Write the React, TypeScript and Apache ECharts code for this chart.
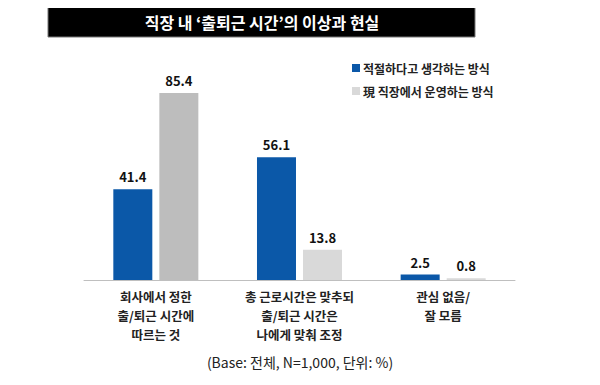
import React, { useEffect, useRef } from "react";
import * as echarts from "echarts";

const titleText = "직장 내 ‘출퇴근 시간’의 이상과 현실";
const categories = ["회사에서 정한\n출/퇴근 시간에\n따르는 것", "총 근로시간은 맞추되\n출/퇴근 시간은\n나에게 맞춰 조정", "관심 없음/\n잘 모름"];
const seriesNames = ["적절하다고 생각하는 방식", "現 직장에서 운영하는 방식"];
const idealValues = [41.4, 56.1, 2.5];
const currentValues = [85.4, 13.8, 0.8];
const noteText = "(Base: 전체, N=1,000, 단위: %)";

const FONT = "'Noto Sans CJK KR', 'Noto Sans', sans-serif";
const BLUE = "#0B58A8";
const GREY = "#D9D9D9";
const GREY_DARK = "#BDBDBD";

export default function App() {
  const ref = useRef<HTMLDivElement>(null);
  useEffect(() => {
    if (!ref.current) return;
    const chart = echarts.init(ref.current, undefined, { renderer: "svg" });
    const labelStyle = {
      show: true,
      position: "top",
      distance: 6,
      color: "#111",
      fontSize: 13,
      fontWeight: "bold",
      fontFamily: FONT,
    };
    chart.setOption({
      animation: false,
      backgroundColor: "#fff",
      textStyle: { fontFamily: FONT },
      graphic: [
        {
          type: "rect",
          shape: { x: 48, y: 6, width: 427, height: 31 },
          style: { fill: "#000", stroke: "#777", lineWidth: 1 },
        },
        {
          type: "text",
          x: 262,
          y: 22,
          style: {
            text: titleText,
            fill: "#fff",
            font: `bold 16px ${FONT}`,
            textAlign: "center",
            textVerticalAlign: "middle",
          },
        },
        {
          type: "text",
          x: 300,
          y: 362,
          style: {
            text: noteText,
            fill: "#222",
            font: `14px ${FONT}`,
            textAlign: "center",
            textVerticalAlign: "middle",
          },
        },
      ],
      legend: {
        orient: "vertical",
        left: 347,
        top: 57,
        itemWidth: 8,
        itemHeight: 8,
        itemGap: 11,
        icon: "rect",
        data: seriesNames,
        textStyle: { fontSize: 12, fontWeight: "bold", color: "#222", fontFamily: FONT, padding: [0, 0, 0, -2] },
      },
      grid: { left: 84, right: 85, top: 61, bottom: 105 },
      xAxis: {
        type: "category",
        data: categories,
        axisLine: { lineStyle: { color: "#BFBFBF", width: 1 } },
        axisTick: { show: false },
        axisLabel: {
          color: "#222",
          fontSize: 12.5,
          fontWeight: "bold",
          lineHeight: 19,
          margin: 7,
          fontFamily: FONT,
        },
      },
      yAxis: {
        type: "value",
        min: 0,
        max: 100,
        show: false,
      },
      series: [
        {
          name: seriesNames[0],
          type: "bar",
          data: idealValues,
          barWidth: 39,
          barGap: "18%",
          itemStyle: { color: BLUE },
          label: labelStyle,
        },
        {
          name: seriesNames[1],
          type: "bar",
          data: currentValues.map((v, i) =>
            i === 0 ? { value: v, itemStyle: { color: GREY_DARK } } : v
          ),
          barWidth: 39,
          itemStyle: { color: GREY },
          label: labelStyle,
        },
      ],
    });
    return () => chart.dispose();
  }, []);
  return <div ref={ref} style={{ width: 600, height: 385, marginLeft: -8, marginTop: -8 }} />;
}
